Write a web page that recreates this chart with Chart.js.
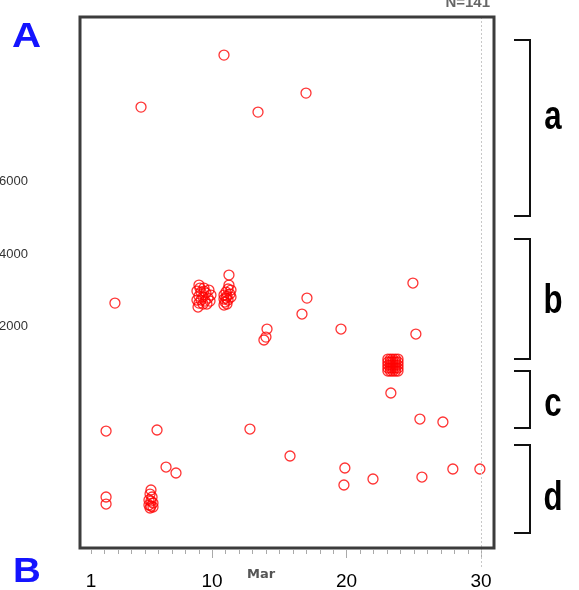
<!DOCTYPE html>
<html>
<head>
<meta charset="utf-8">
<script src="https://cdn.jsdelivr.net/npm/chart.js@4.4.0/dist/chart.umd.min.js"></script>
<style>
  html, body { margin: 0; padding: 0; background: #fff; }
  #wrap { width: 579px; height: 590px; position: relative; }
</style>
</head>
<body>
<div id="wrap"><canvas id="myChart"></canvas></div>
<script>
// day of March for each observation
const xDays = [
  10.89, 4.72, 13.42, 16.99, 2.78, 14.09, 14.01, 13.86, 16.69, 17.06,
  19.59, 24.94, 25.16, 23.30, 25.46, 27.17, 2.12, 5.91, 12.82, 6.58,
  7.32, 15.80, 19.88, 19.81, 21.97, 25.61, 27.91, 29.92, 2.12, 2.12,
  // cluster around day 9
  9.03, 9.40, 9.77, 8.88, 9.18, 9.55, 9.92, 9.03, 9.33, 9.70,
  8.88, 9.18, 9.48, 9.85, 9.03, 9.33, 9.62, 8.96, 9.40, 9.10,
  // cluster around day 11
  11.26, 11.26, 11.19, 11.41, 11.04, 11.33, 10.89, 11.11, 11.41, 10.89,
  11.19, 10.96, 10.89, 11.11, 11.04,
  // cluster around day 23.5
  23.08, 23.27, 23.45, 23.64, 23.83, 23.08, 23.27, 23.45, 23.64, 23.83,
  23.08, 23.27, 23.45, 23.64, 23.83, 23.08, 23.27, 23.45, 23.64, 23.83,
  23.08, 23.27, 23.45, 23.64, 23.83,
  // cluster around day 5.4
  5.46, 5.39, 5.54, 5.31, 5.46, 5.61, 5.31, 5.46, 5.61, 5.39
];
const yValues = [
  9490, 8055, 7917, 8441, 2648, 1931, 1710, 1628, 2345, 2786,
  1931, 3200, 1793, 166, -552, -634, -883, -855, -828, -1876,
  -2041, -1572, -1903, -2372, -2207, -2152, -1931, -1931, -2703, -2897,
  3145, 3062, 3007, 2979, 2952, 2924, 2869, 2841, 2814, 2786,
  2731, 2731, 2703, 2703, 2648, 2621, 2621, 2538, 2979, 3062,
  3421, 3145, 3035, 3007, 2952, 2897, 2869, 2841, 2814, 2759,
  2731, 2676, 2593, 2621, 2786,
  1103, 1103, 1103, 1103, 1103, 1021, 1021, 1021, 1021, 1021,
  938, 938, 938, 938, 938, 855, 855, 855, 855, 855,
  772, 772, 772, 772, 772,
  -2510, -2621, -2703, -2786, -2814, -2869, -2924, -2952, -2979, -3007
];
const xTickLabels = [1, 10, 20, 30];
const yTickLabels = [2000, 4000, 6000];
const minorDays = [1,2,3,4,5,6,7,8,9,10,11,12,13,14,15,16,17,18,19,20,21,22,23,24,25,26,27,28,29,30];
const bracketLabels = ["a", "b", "c", "d"];
const countLabel = "N=141";
const monthLabel = "Mar";

const points = xDays.map((d, i) => ({ x: d, y: yValues[i] }));

const extras = {
  id: "extras",
  afterDraw(chart) {
    const ctx = chart.ctx;
    const a = chart.chartArea;
    const xs = chart.scales.x;
    ctx.save();

    // day ticks under the frame
    ctx.strokeStyle = "#aaa";
    ctx.lineWidth = 1;
    minorDays.forEach((d) => {
      const px = Math.round(xs.getPixelForValue(d)) + 0.5;
      const major = d % 10 === 0;
      ctx.beginPath();
      ctx.moveTo(px, a.bottom + 2);
      ctx.lineTo(px, a.bottom + (major ? 10 : 6));
      ctx.stroke();
    });

    // dotted line at day 30
    const p30 = Math.round(xs.getPixelForValue(30)) + 0.5;
    ctx.strokeStyle = "#c8c8c8";
    ctx.setLineDash([2, 2]);
    ctx.beginPath();
    ctx.moveTo(p30, a.top);
    ctx.lineTo(p30, a.bottom + 19);
    ctx.stroke();
    ctx.setLineDash([]);

    // frame
    ctx.strokeStyle = "#3c3c3c";
    ctx.lineWidth = 3;
    ctx.strokeRect(a.left - 1, a.top, a.right - a.left + 1, a.bottom - a.top);

    // month + count
    ctx.fillStyle = "#555";
    ctx.font = "bold 13px 'DejaVu Sans'";
    ctx.textAlign = "center";
    ctx.textBaseline = "middle";
    ctx.fillText(monthLabel, 261, 575);
    ctx.fillStyle = "#666";
    ctx.font = "bold 15px 'Liberation Sans'";
    ctx.textAlign = "right";
    ctx.textBaseline = "alphabetic";
    ctx.fillText(countLabel, 490, 7);

    // panel letters
    ctx.fillStyle = "#1414ff";
    ctx.font = "bold 35px 'Liberation Sans'";
    ctx.textAlign = "left";
    ctx.save();
    ctx.translate(12, 47);
    ctx.scale(1.15, 1);
    ctx.fillText("A", 0, 0);
    ctx.restore();
    ctx.save();
    ctx.translate(13, 582);
    ctx.scale(1.1, 1);
    ctx.fillText("B", 0, 0);
    ctx.restore();

    // brackets
    const spans = [[40, 216], [239, 359], [371, 428], [445, 533]];
    const textY = [116, 300, 403, 497];
    ctx.strokeStyle = "#111";
    ctx.lineWidth = 2;
    spans.forEach((s) => {
      ctx.beginPath();
      ctx.moveTo(514, s[0]);
      ctx.lineTo(530, s[0]);
      ctx.lineTo(530, s[1]);
      ctx.lineTo(514, s[1]);
      ctx.stroke();
    });
    ctx.fillStyle = "#000";
    ctx.font = "bold 40px 'Liberation Sans'";
    ctx.textAlign = "center";
    ctx.textBaseline = "alphabetic";
    bracketLabels.forEach((t, i) => {
      ctx.save();
      ctx.translate(553, textY[i] + 13);
      ctx.scale(0.78, 1);
      ctx.fillText(t, 0, 0);
      ctx.restore();
    });
    ctx.restore();
  }
};

new Chart(document.getElementById("myChart").getContext("2d"), {
  type: "scatter",
  data: {
    datasets: [
      {
        label: "obs",
        data: points,
        showLine: false,
        pointStyle: "circle",
        pointRadius: 5,
        pointBorderWidth: 1.3,
        pointBackgroundColor: "rgba(0,0,0,0)",
        pointBorderColor: "rgba(255,0,0,0.8)",
      },
    ],
  },
  options: {
    responsive: true,
    maintainAspectRatio: false,
    animation: false,
    layout: { autoPadding: false, padding: { top: 17, right: 85, left: 0, bottom: 0 } },
    plugins: { legend: { display: false }, tooltip: { enabled: false } },
    scales: {
      x: {
        type: "linear",
        min: 0.256,
        max: 30.97,
        grid: { display: false, drawTicks: false },
        border: { display: false },
        afterBuildTicks: (s) => { s.ticks = xTickLabels.map((v) => ({ value: v })); },
        afterFit: (s) => {
          s.height = 42;
          s.paddingLeft = 0;
          s.paddingRight = 0;
        },
        ticks: {
          padding: 22,
          color: "#000",
          font: { family: "'Liberation Sans'", size: 19 },
          maxRotation: 0,
          autoSkip: false,
          callback: (v) => String(v),
        },
      },
      y: {
        type: "linear",
        min: -4110,
        max: 10540,
        grid: { display: false, drawTicks: false },
        border: { display: false },
        afterBuildTicks: (s) => { s.ticks = yTickLabels.map((v) => ({ value: v })); },
        afterFit: (s) => {
          s.width = 81;
          s.paddingTop = 0;
          s.paddingBottom = 0;
        },
        ticks: {
          padding: 53,
          color: "#333",
          font: { family: "'Liberation Sans'", size: 13 },
          autoSkip: false,
          callback: (v) => String(v),
        },
      },
    },
  },
  plugins: [extras],
});
</script>
</body>
</html>
